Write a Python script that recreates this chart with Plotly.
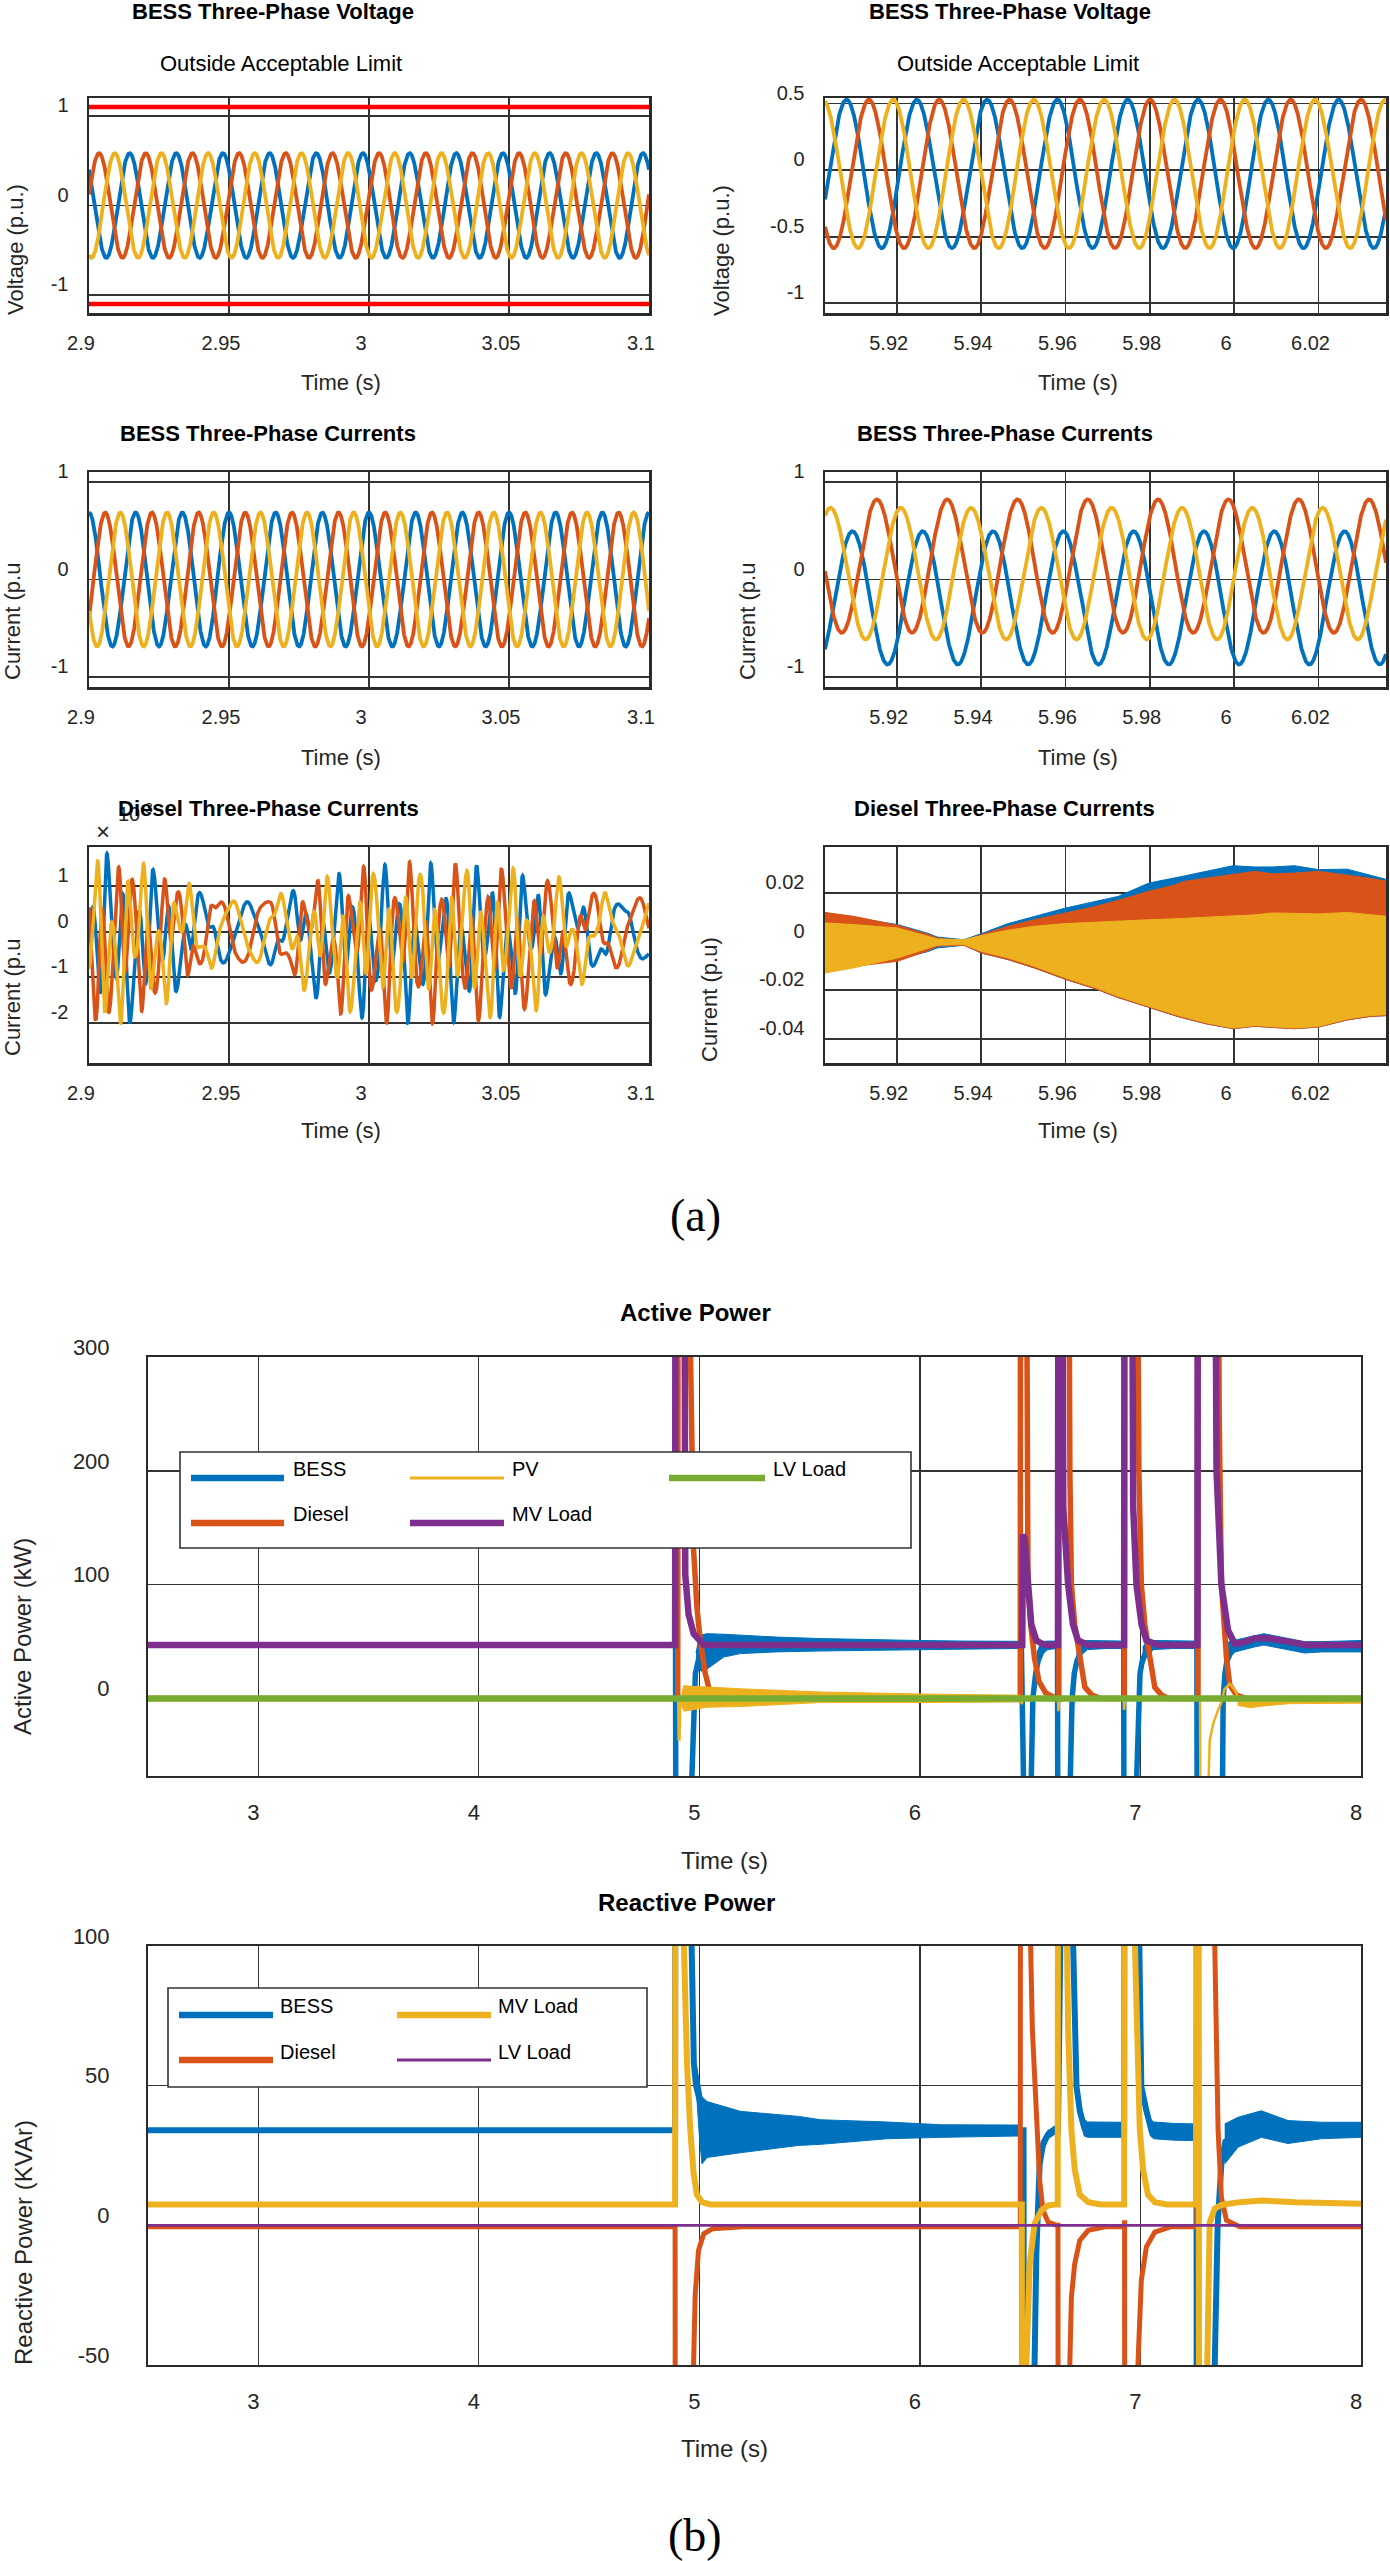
import numpy as np
import plotly.graph_objects as go

W, H = 1390, 2561
FONT = "Liberation Sans, Arial, Helvetica, sans-serif"
SERIF = "Liberation Serif, Times New Roman, serif"
C_BLUE, C_RED, C_YEL, C_PUR, C_GRN, C_LIM = "#0072BD", "#D95319", "#EDB120", "#7E2F8E", "#77AC30", "#FF0000"
AXC = "#2a2a2a"
GRIDC = "#333333"

# ======================= DATA =======================
phase_colors = [C_BLUE, C_RED, C_YEL]
grid_freq_hz = 60.0

win1 = [2.9, 3.1]
win2 = [5.903, 6.036]
win1_ticks = [2.9, 2.95, 3.0, 3.05, 3.1]
win1_ticktext = ["2.9", "2.95", "3", "3.05", "3.1"]
win2_ticks = [5.92, 5.94, 5.96, 5.98, 6.0, 6.02]
win2_ticktext = ["5.92", "5.94", "5.96", "5.98", "6", "6.02"]

# BESS three-phase voltage (p.u.) : amplitude, offset, time of a positive peak (blue, red, yellow)
volt1_amp = [0.585, 0.585, 0.585]
volt1_offset = [0.0, 0.0, 0.0]
volt1_peak_t = [2.9145, 2.9036, 2.9092]
volt_limits = [1.1, -1.1]
volt2_amp = [0.558, 0.558, 0.558]
volt2_offset = [-0.028, -0.028, -0.028]
volt2_peak_t = [5.9081, 5.9134, 5.9025]

# BESS three-phase currents (p.u.)
curr1_amp = [0.686, 0.686, 0.686]
curr1_offset = [0.0, 0.0, 0.0]
curr1_peak_t = [2.9000, 2.9058, 2.9112]
curr2_amp = [0.682, 0.683, 0.674]
curr2_offset = [-0.188, 0.137, 0.060]
curr2_peak_t = [5.9095, 5.9153, 5.9043]

# Diesel three-phase currents, window 1 (x 1e-3 p.u.)
dsl1_env_t = [2.900, 2.910, 2.920, 2.930, 2.940, 2.950, 2.960, 2.970, 2.980, 2.990, 3.000,
              3.010, 3.020, 3.030, 3.040, 3.050, 3.060, 3.070, 3.080, 3.090, 3.100]
dsl1_hf_env = [1.45, 1.35, 1.15, 0.8, 0.3, 0.05, 0.05, 0.25, 0.75, 1.0, 1.1,
               1.15, 1.15, 1.15, 1.15, 1.1, 0.9, 0.6, 0.3, 0.12, 0.05]
dsl1_center = [-0.25, -0.25, -0.2, -0.1, 0.0, 0.0, 0.0, 0.0, -0.15, -0.25, -0.25,
               -0.25, -0.25, -0.25, -0.25, -0.25, -0.2, -0.1, -0.05, 0.0, 0.0]
dsl1_lf_amp = [0.62, 0.7, 0.65]
dsl1_lf_peak_t = [2.9567, 2.9463, 2.9511]
dsl1_hf_freq = [182.0, 310.0]
dsl1_hf_weight = [0.9, 0.15]
dsl1_hf_phase = [[0.0, 1.0], [2.1, 3.5], [4.2, 5.3]]

# Diesel three-phase currents, window 2 (p.u.) : envelope of the fast oscillation
dsl2_t = [5.903, 5.9098, 5.9202, 5.9276, 5.9296, 5.9359, 5.9401, 5.9464, 5.9526, 5.960,
          5.9673, 5.9725, 5.9798, 5.9861, 5.9882, 5.9934, 5.9997, 6.0049, 6.0091, 6.0143,
          6.020, 6.0268, 6.0321, 6.0362]
dsl2_yel_hi = [0.0077, 0.0070, 0.0056, 0.0022, 0.0011, 0.0008, 0.0025, 0.0047, 0.0063, 0.0074,
               0.0081, 0.0085, 0.0090, 0.0094, 0.0096, 0.0100, 0.0104, 0.0110, 0.0118, 0.0116,
               0.0114, 0.0120, 0.0112, 0.0104]
dsl2_yel_lo = [-0.0129, -0.0108, -0.0067, -0.0026, -0.0015, -0.0012, -0.0040, -0.0067, -0.0101, -0.0149,
               -0.0190, -0.0225, -0.0266, -0.0300, -0.0310, -0.0334, -0.0355, -0.0345, -0.0350, -0.0355,
               -0.0348, -0.0318, -0.0304, -0.0300]
dsl2_red_hi = [0.0120, 0.0104, 0.0067, 0.0029, 0.0015, 0.0004, 0.0029, 0.0063, 0.0090, 0.0118,
               0.0145, 0.0170, 0.0207, 0.0234, 0.0248, 0.0261, 0.0275, 0.0289, 0.0279, 0.0282,
               0.0289, 0.0275, 0.0261, 0.0248]
dsl2_red_lo = [-0.0122, -0.0102, -0.0081, -0.0036, -0.0019, -0.0015, -0.0047, -0.0074, -0.0108, -0.0155,
               -0.0195, -0.0230, -0.0270, -0.0305, -0.0315, -0.0338, -0.0358, -0.0348, -0.0353, -0.0358,
               -0.0351, -0.0322, -0.0308, -0.0304]
dsl2_blu_hi = [0.0118, 0.0100, 0.0070, 0.0033, 0.0019, 0.0008, 0.0033, 0.0074, 0.0104, 0.0138,
               0.0166, 0.0186, 0.0241, 0.0261, 0.0270, 0.0289, 0.0312, 0.0307, 0.0307, 0.0312,
               0.0296, 0.0298, 0.0275, 0.0255]
dsl2_blu_lo = [-0.0115, -0.0100, -0.0074, -0.0040, -0.0026, -0.0015, -0.0047, -0.0074, -0.0108, -0.0155,
               -0.0195, -0.0230, -0.0270, -0.0305, -0.0315, -0.0338, -0.0358, -0.0348, -0.0353, -0.0358,
               -0.0351, -0.0322, -0.0308, -0.0304]

# ---------------- Active power (kW) ----------------
p_bess_t = [2.5, 4.892, 4.895, 4.957, 4.966, 4.974, 4.982, 4.996, 5.02,
            6.460, 6.463, 6.497, 6.505, 6.512, 6.525, 6.536, 6.56,
            6.624, 6.627, 6.673, 6.682, 6.690, 6.700, 6.712, 6.74,
            6.924, 6.927, 6.975, 6.983, 6.990, 6.998, 7.008, 7.035,
            7.256, 7.259, 7.360, 7.368, 7.375, 7.383, 7.392, 7.42,
            7.52, 7.56, 7.67, 7.80, 8.0]
p_bess_v = [47, 47, -400, -400, -69, 0, 22, 34, 47,
            47, -400, -400, -69, 0, 22, 33, 45,
            47, -400, -400, -69, 0, 22, 33, 46,
            47, -400, -400, -69, 0, 22, 33, 46,
            47, -400, -400, -69, 0, 22, 33, 45,
            50, 52, 48, 45.5, 46]
p_bess_band = [
    ([4.985, 4.995, 5.010, 5.035, 5.111, 5.186, 5.350, 5.549, 5.800, 6.000, 6.200, 6.455],
     [25, 26, 24, 26, 36.5, 39.5, 41, 41.8, 42.3, 42.5, 43.5, 44],
     [40, 50, 56, 57, 56.5, 55.6, 54, 52.7, 51.5, 51, 50.5, 50.3]),
    ([6.530, 6.550, 6.580, 6.620], [25, 38, 43, 44], [40, 50, 50.5, 50.5]),
    ([6.710, 6.730, 6.760, 6.850, 6.920], [28, 38, 43, 44, 44], [45, 51, 51, 50.5, 50.5]),
    ([7.010, 7.030, 7.060, 7.150, 7.250], [28, 38, 43, 44, 44], [45, 51, 51, 50.5, 50.5]),
    ([7.385, 7.400, 7.430, 7.520, 7.560, 7.670, 7.745, 7.820, 8.0],
     [30, 36, 41, 45.5, 47, 42.7, 40, 41, 41],
     [42, 50, 51.4, 55.7, 57, 52.8, 50, 50, 51]),
]
p_dsl_t = [2.5, 4.902, 4.904, 4.950, 4.960, 4.974, 4.989, 5.004, 5.027, 5.042, 5.06, 5.10,
           6.455, 6.457, 6.475, 6.490, 6.505, 6.520, 6.540, 6.570, 6.610,
           6.630, 6.632, 6.668, 6.680, 6.687, 6.702, 6.725, 6.748, 6.780, 6.820,
           6.927, 6.929, 6.975, 6.993, 7.004, 7.020, 7.043, 7.065, 7.096, 7.130,
           7.261, 7.263, 7.345, 7.357, 7.367, 7.390, 7.405, 7.435, 7.480, 8.0]
p_dsl_v = [0, 0, 800, 800, 300, 130, 80, 51, 22, 10, 2, 0,
           0, 800, 800, 100, 60, 35, 15, 5, 1,
           0, 800, 800, 200, 100, 65, 36, 10, 3, 0,
           0, 800, 800, 200, 100, 65, 36, 10, 3, 0,
           0, 800, 800, 250, 100, 36, 12, 3, 0, 0]
p_pv_t = [2.5, 4.904, 4.906, 4.910, 4.913, 4.918, 6.460, 6.462, 6.465, 6.626, 6.628, 6.632,
          6.924, 6.926, 6.930, 7.270, 7.272, 7.305, 7.314, 7.330, 7.350, 7.370, 7.380, 7.405,
          7.430, 7.450, 7.500, 7.560, 7.670, 8.0]
p_pv_v = [0, 0, -36, -36, -5, 0, 0, -5, 0, 0, -11, 0,
          0, -10, 0, 0, -100, -100, -37, -22, -11, -2, 8, 13,
          7, -3, -6, -3, -1.5, -1]
p_pv_band = [
    ([4.918, 4.930, 4.950, 5.035, 5.186, 5.549, 6.000, 6.455],
     [-5, -11, -10.5, -7.6, -7, -3.5, -3.5, -3],
     [2, 11.5, 11, 10, 8.6, 5.8, 4, 3]),
    ([7.440, 7.500, 7.560, 7.670, 7.800, 8.0],
     [-6, -8, -6.5, -4.5, -4, -4],
     [-1, -2, -1, 0, 0, 0]),
]
p_mv_t = [2.5, 4.890, 4.893, 4.928, 4.936, 4.951, 4.974, 5.000, 5.020,
          6.464, 6.467, 6.475, 6.490, 6.505, 6.528, 6.566,
          6.626, 6.629, 6.642, 6.650, 6.672, 6.694, 6.717, 6.763,
          6.926, 6.929, 6.955, 6.967, 6.982, 7.005, 7.027, 7.080,
          7.258, 7.261, 7.330, 7.345, 7.367, 7.397, 7.428, 7.460, 7.520, 7.580, 7.670, 7.750, 7.850, 8.0]
p_mv_v = [47, 47, 800, 800, 109, 74, 57, 50, 47,
          47, 144, 140, 100, 65, 51, 47,
          47, 800, 800, 168, 100, 65, 51, 47,
          47, 800, 800, 168, 100, 65, 51, 47,
          47, 800, 800, 200, 100, 60, 48, 49, 53, 53, 50, 47, 47, 47]
p_lv_t = [2.5, 8.0]
p_lv_v = [0.0, 0.0]

# ---------------- Reactive power (kVAr) ----------------
q_bess_t = [2.5, 4.890, 4.893, 4.955, 4.965, 4.975, 4.985, 5.035, 6.450,
            6.470, 6.473, 6.510, 6.520, 6.528, 6.543, 6.558, 6.580, 6.611,
            6.626, 6.629, 6.685, 6.695, 6.710, 6.725, 6.745, 6.76,
            6.926, 6.929, 6.985, 6.995, 7.004, 7.027, 7.050, 7.06,
            7.254, 7.257, 7.330, 7.337, 7.350, 7.367, 7.385, 7.45, 7.55, 7.67, 7.82, 8.0]
q_bess_v = [34, 34, 400, 400, 100, 58, 50, 34, 34,
            34, -400, -400, -49, -10, 22, 29, 32.4, 34.5,
            34, 400, 400, 100, 49.7, 41, 35, 34,
            34, 400, 400, 100, 49.7, 41, 34, 34,
            34, -400, -400, -49, 0, 22, 30, 33, 36, 33.5, 34, 34]
q_bess_band = [
    ([4.985, 5.000, 5.012, 5.035, 5.186, 5.450, 5.550, 5.850, 6.100, 6.460],
     [50, 32, 22, 24.3, 26, 28.6, 29, 31, 31.5, 32],
     [58, 52, 46, 44.3, 40.8, 39, 37.8, 37, 36, 35.9]),
    ([6.550, 6.580, 6.620], [24, 31, 33], [30, 34, 35.5]),
    ([6.725, 6.745, 6.760, 6.850, 6.924], [38, 32, 31.5, 31.5, 31.5], [44, 38, 37, 37, 36.9]),
    ([7.027, 7.045, 7.060, 7.150, 7.254], [38, 32, 31, 30.5, 30.3], [44, 38, 37, 36.5, 36.3]),
    ([7.382, 7.443, 7.548, 7.669, 7.820, 8.0], [22, 28, 31.5, 29.3, 31, 31.5], [36.3, 38.7, 41, 37.5, 36.9, 36.9]),
]
q_dsl_t = [2.5, 4.890, 4.893, 4.965, 4.974, 4.981, 4.996, 5.020, 5.060, 5.200,
           6.455, 6.458, 6.495, 6.502, 6.510, 6.528, 6.543, 6.558, 6.581, 6.620,
           6.626, 6.629, 6.672, 6.680, 6.687, 6.702, 6.725, 6.763, 6.840,
           6.926, 6.928, 6.930, 6.980, 6.989, 7.004, 7.027, 7.065, 7.140,
           7.256, 7.259, 7.330, 7.337, 7.352, 7.367, 7.390, 7.450, 8.0]
q_dsl_v = [-0.5, -0.5, -400, -400, -49, -25, -9, -3, -1.2, -0.5,
           -0.5, 400, 400, 100, 70, 40, 16, 5.4, 1.2, 0,
           0, -400, -400, -49, -25.6, -13.7, -5.4, -1.8, -0.5,
           -0.5, 1.8, -400, -400, -49, -19.6, -7.7, -2.4, -0.5,
           -0.5, 400, 400, 100, 34, 10, 1.8, -0.5, -0.5]
q_mv_t = [2.5, 4.890, 4.893, 4.925, 4.930, 4.944, 4.959, 4.974, 4.989, 5.012, 5.050,
          6.462, 6.465, 6.480, 6.483, 6.498, 6.520, 6.551, 6.581, 6.620,
          6.625, 6.628, 6.660, 6.667, 6.672, 6.687, 6.702, 6.725, 6.763, 6.820,
          6.926, 6.929, 6.960, 6.975, 6.982, 6.997, 7.012, 7.034, 7.065, 7.120,
          7.252, 7.255, 7.262, 7.268, 7.298, 7.303, 7.314, 7.337, 7.367, 7.450, 7.548, 7.700, 8.0]
q_mv_v = [7.5, 7.5, 400, 400, 100, 58, 34, 18.5, 11, 8.3, 7.5,
          7.5, -400, -400, -49, -13.7, 0.6, 5.4, 7.1, 7.5,
          7.5, 400, 400, 100, 70, 34, 20, 11, 8.3, 7.5,
          7.5, 400, 400, 100, 70, 34, 20, 11, 8.3, 7.5,
          7.5, 400, 400, -400, -400, -49, 1, 6, 7.3, 8.3, 8.9, 8.3, 7.7]
q_lv_t = [2.5, 8.0]
q_lv_v = [0.0, 0.0]

# ======================= FIGURE =======================
fig = go.Figure()


def xd(a, b):
    return [a / W, b / W]


def yd(top, bottom):
    return [1 - bottom / H, 1 - top / H]


def axkey(i, kind):
    return f"{kind}axis" if i == 1 else f"{kind}axis{i}"


def ref(i, kind):
    return kind if i == 1 else f"{kind}{i}"


layout_axes = {}


def make_axes(i, xdom, ydom, xr, yr, xt, xtt, yt, ytt, big=False):
    tf = dict(family=FONT, size=22 if big else 20, color="#262626")
    common = dict(showgrid=True, gridcolor=GRIDC, gridwidth=1.3 if big else 1.8,
                  showline=True, mirror=True, linecolor=AXC, linewidth=2 if big else 2.5,
                  zeroline=False, ticks="outside", tickcolor="rgba(0,0,0,0)", tickwidth=1,
                  tickfont=tf, fixedrange=True, automargin=False)
    layout_axes[axkey(i, "x")] = dict(common, domain=xdom, range=xr, tickvals=xt, ticktext=xtt,
                                      anchor=ref(i, "y"), ticklen=16 if big else 10,
                                      ticklabelshift=-5 if big else -8)
    layout_axes[axkey(i, "y")] = dict(common, domain=ydom, range=yr, tickvals=yt, ticktext=ytt,
                                      anchor=ref(i, "x"), ticklen=32 if big else 14,
                                      ticklabelshift=-10 if big else -11)


def line(i, x, y, color, width, name=None):
    fig.add_trace(go.Scatter(x=x, y=y, mode="lines", line=dict(color=color, width=width),
                             xaxis=ref(i, "x"), yaxis=ref(i, "y"), showlegend=False,
                             hoverinfo="skip", name=name))


def band(i, segments, color):
    xs, ys = [], []
    for t, lo, hi in segments:
        xs += list(t) + list(t)[::-1] + [None]
        ys += list(hi) + list(lo)[::-1] + [None]
    fig.add_trace(go.Scatter(x=xs, y=ys, mode="lines", fill="toself", fillcolor=color,
                             line=dict(color=color, width=1), xaxis=ref(i, "x"), yaxis=ref(i, "y"),
                             showlegend=False, hoverinfo="skip"))


def sine(t, amp, off, tpk):
    return off + amp * np.cos(2 * np.pi * grid_freq_hz * (t - tpk))


t1 = np.linspace(win1[0], win1[1], 3000)
t2 = np.linspace(win2[0], win2[1], 3000)

LW = 3.8
# Panel 1: voltage window 1
make_axes(1, xd(89, 649), yd(98, 313), win1, [-1.2, 1.2], win1_ticks, win1_ticktext,
          [-1, 0, 1], ["-1", "0", "1"])
for k in range(3):
    line(1, t1, sine(t1, volt1_amp[k], volt1_offset[k], volt1_peak_t[k]), phase_colors[k], LW)
for lim in volt_limits:
    line(1, win1, [lim, lim], C_LIM, 4.5)

# Panel 2: voltage window 2
make_axes(2, xd(825, 1386), yd(98, 313), win2, [-1.073, 0.542], win2_ticks, win2_ticktext,
          [-1, -0.5, 0, 0.5], ["-1", "-0.5", "0", "0.5"])
for k in range(3):
    line(2, t2, sine(t2, volt2_amp[k], volt2_offset[k], volt2_peak_t[k]), phase_colors[k], LW)

# Panel 3: BESS currents window 1
make_axes(3, xd(89, 649), yd(472, 687), win1, [-1.1, 1.1], win1_ticks, win1_ticktext,
          [-1, 0, 1], ["-1", "0", "1"])
for k in range(3):
    line(3, t1, sine(t1, curr1_amp[k], curr1_offset[k], curr1_peak_t[k]), phase_colors[k], LW)

# Panel 4: BESS currents window 2
make_axes(4, xd(825, 1386), yd(472, 687), win2, [-1.1, 1.1], win2_ticks, win2_ticktext,
          [-1, 0, 1], ["-1", "0", "1"])
for k in range(3):
    line(4, t2, sine(t2, curr2_amp[k], curr2_offset[k], curr2_peak_t[k]), phase_colors[k], LW)

# Panel 5: diesel currents window 1 (x1e-3)
make_axes(5, xd(89, 649), yd(847, 1063), win1, [-2.88, 1.855], win1_ticks, win1_ticktext,
          [-2, -1, 0, 1], ["-2", "-1", "0", "1"])
t5 = np.linspace(win1[0], win1[1], 5000)
env = np.interp(t5, dsl1_env_t, dsl1_hf_env)
cen = np.interp(t5, dsl1_env_t, dsl1_center)
for k in range(3):
    hf = sum(dsl1_hf_weight[j] * np.cos(2 * np.pi * dsl1_hf_freq[j] * t5 + dsl1_hf_phase[k][j])
             for j in range(2))
    y = cen + sine(t5, dsl1_lf_amp[k], 0.0, dsl1_lf_peak_t[k]) + env * hf
    line(5, t5, y, phase_colors[k], 3.5)

# Panel 6: diesel currents window 2
make_axes(6, xd(825, 1386), yd(847, 1063), win2, [-0.0499, 0.0389], win2_ticks, win2_ticktext,
          [-0.04, -0.02, 0, 0.02], ["-0.04", "-0.02", "0", "0.02"])
band(6, [(dsl2_t, dsl2_blu_lo, dsl2_blu_hi)], C_BLUE)
band(6, [(dsl2_t, dsl2_red_lo, dsl2_red_hi)], C_RED)
band(6, [(dsl2_t, dsl2_yel_lo, dsl2_yel_hi)], C_YEL)

# Panel 7: active power
pw_ticks = [3, 4, 5, 6, 7, 8]
pw_tt = ["3", "4", "5", "6", "7", "8"]
make_axes(7, xd(148, 1361), yd(1357, 1776), [2.5, 8], [-68, 300], pw_ticks, pw_tt,
          [0, 100, 200, 300], ["0", "100", "200", "300"], big=True)
band(7, p_bess_band, C_BLUE)
line(7, p_bess_t, p_bess_v, C_BLUE, 5.5, "BESS")
line(7, p_dsl_t, p_dsl_v, C_RED, 5.5, "Diesel")
band(7, p_pv_band, C_YEL)
line(7, p_pv_t, p_pv_v, C_YEL, 2.5, "PV")
line(7, p_mv_t, p_mv_v, C_PUR, 6.5, "MV Load")
line(7, p_lv_t, p_lv_v, C_GRN, 6.5, "LV Load")

# Panel 8: reactive power
make_axes(8, xd(148, 1361), yd(1946, 2365), [2.5, 8], [-50, 100], pw_ticks, pw_tt,
          [-50, 0, 50, 100], ["-50", "0", "50", "100"], big=True)
band(8, q_bess_band, C_BLUE)
line(8, q_bess_t, q_bess_v, C_BLUE, 6, "BESS")
line(8, q_dsl_t, q_dsl_v, C_RED, 5, "Diesel")
line(8, q_mv_t, q_mv_v, C_YEL, 6, "MV Load")
line(8, q_lv_t, q_lv_v, C_PUR, 2.7, "LV Load")

# ======================= TEXT =======================
anns = []


def ann(text, x, y, size, angle=0, xanchor="center", family=FONT, color="black", yanchor="middle"):
    anns.append(dict(text=text, x=x / W, y=1 - y / H, xref="paper", yref="paper", showarrow=False,
                     font=dict(family=family, size=size, color=color), textangle=angle,
                     xanchor=xanchor, yanchor=yanchor))


SMALL_T = 22
ann("<b>BESS Three-Phase Voltage</b>", 273, 12, SMALL_T)
ann("<b>BESS Three-Phase Voltage</b>", 1010, 12, SMALL_T)
ann("Outside Acceptable Limit", 281, 63, SMALL_T)
ann("Outside Acceptable Limit", 1018, 63, SMALL_T)
ann("<b>BESS Three-Phase Currents</b>", 268, 434, SMALL_T)
ann("<b>BESS Three-Phase Currents</b>", 1005, 434, SMALL_T)
ann("×", 103, 831, 24, color="#262626")
ann("10<sup>-3</sup>", 116, 812, 20, xanchor="left", color="#262626")
ann("<b>Diesel Three-Phase Currents</b>", 268, 808, SMALL_T)
ann("<b>Diesel Three-Phase Currents</b>", 1005, 808, SMALL_T)

for yc in (382, 757, 1130):
    ann("Time (s)", 341, yc, 22, color="#262626")
    ann("Time (s)", 1078, yc, 22, color="#262626")
ann("Voltage (p.u.)", 15, 250, 22, angle=-90, color="#262626")
ann("Voltage (p.u.)", 721, 250, 22, angle=-90, color="#262626")
ann("Current (p.u", 12, 622, 22, angle=-90, color="#262626")
ann("Current (p.u", 747, 622, 22, angle=-90, color="#262626")
ann("Current (p.u", 12, 998, 22, angle=-90, color="#262626")
ann("Current (p.u)", 710, 1000, 22, angle=-90, color="#262626")

ann("(a)", 695, 1216, 46, family=SERIF)
ann("(b)", 695, 2535, 46, family=SERIF)

ann("<b>Active Power</b>", 695, 1312, 24)
ann("<b>Reactive Power</b>", 686, 1902, 24)
ann("Time (s)", 724, 1860, 24, color="#262626")
ann("Time (s)", 724, 2448, 24, color="#262626")
ann("Active Power (kW)", 22, 1637, 24, angle=-90, color="#262626")
ann("Reactive Power (KVAr)", 23, 2243, 24, angle=-90, color="#262626")

# ======================= LEGENDS =======================
shapes = []


def pshape(**kw):
    d = dict(xref="paper", yref="paper", layer="above")
    d.update(kw)
    shapes.append(d)


def legend_box(x0, x1, y0, y1):
    pshape(type="rect", x0=x0 / W, x1=x1 / W, y0=1 - y1 / H, y1=1 - y0 / H,
           fillcolor="white", line=dict(color="#333333", width=1.6))


def legend_entry(label, color, width, lx0, lx1, ly, tx, ty):
    pshape(type="line", x0=lx0 / W, x1=lx1 / W, y0=1 - ly / H, y1=1 - ly / H,
           line=dict(color=color, width=width))
    ann(label, tx, ty, 20, xanchor="left")


legend_box(180, 911, 1452, 1548)
legend_entry("BESS", C_BLUE, 6.5, 191, 284, 1478, 291, 1469)
legend_entry("PV", C_YEL, 3, 410, 504, 1478, 510, 1469)
legend_entry("LV Load", C_GRN, 6.5, 669, 765, 1478, 771, 1469)
legend_entry("Diesel", C_RED, 6.5, 191, 284, 1523, 291, 1514)
legend_entry("MV Load", C_PUR, 6.5, 410, 504, 1523, 510, 1514)

legend_box(168, 647, 1988, 2087)
legend_entry("BESS", C_BLUE, 6.5, 179, 273, 2015, 278, 2006)
legend_entry("MV Load", C_YEL, 6.5, 397, 491, 2015, 496, 2006)
legend_entry("Diesel", C_RED, 6.5, 179, 273, 2060, 278, 2052)
legend_entry("LV Load", C_PUR, 3, 397, 491, 2060, 496, 2052)

fig.update_layout(template="none", width=W, height=H, margin=dict(l=0, r=0, t=0, b=0, pad=0),
                  paper_bgcolor="white", plot_bgcolor="white", showlegend=False,
                  hovermode=False, annotations=anns, shapes=shapes,
                  font=dict(family=FONT), **layout_axes)

fig.write_html("out.html", config={"displayModeBar": False, "staticPlot": True},
               post_script="document.body.style.margin='0px';document.body.style.padding='0px';")
